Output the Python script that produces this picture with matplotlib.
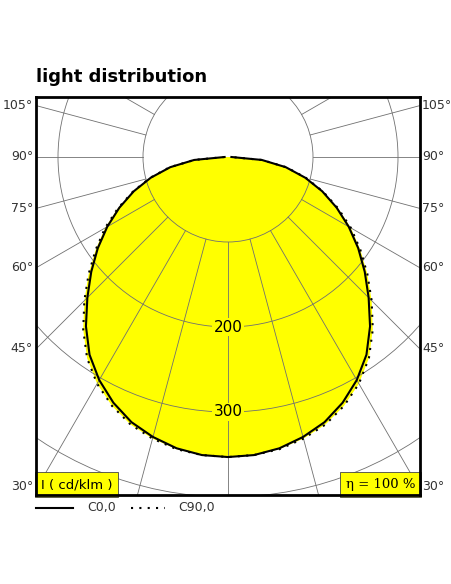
import numpy as np
import matplotlib.pyplot as plt
from matplotlib.patches import Circle, Polygon

# luminous intensity (cd/klm) vs gamma angle, symmetric halves
angles = [0, 5, 10, 15, 20, 25, 30, 35, 40, 45, 50, 55, 60, 65, 70, 75, 80, 85, 90]
c0 = [353, 352, 348, 341, 332, 319, 303, 284, 260, 234, 210, 187, 164, 141, 118, 94, 69, 40, 4]
c90 = [353, 352, 349, 343, 335, 323, 308, 289, 265, 239, 214, 190, 167, 143, 119, 95, 70, 40, 4]
grid_rings = [100, 200, 300, 400]
ring_labels = {200: "200", 300: "300"}
side_labels = [30, 45, 60, 75, 90, 105]

S = 0.85  # px per cd/klm
fig = plt.figure(figsize=(4.52, 5.84), dpi=100)
ax = fig.add_axes([36 / 452, 89 / 584, 384 / 452, 398 / 584])
ax.set_xlim(-192 / S, 192 / S)
ax.set_ylim(-338 / S, 60 / S)
ax.set_aspect('equal')
ax.set_xticks([])
ax.set_yticks([])
for sp in ax.spines.values():
    sp.set_linewidth(2)
    sp.set_zorder(6)


def curve(vals):
    g = np.radians(angles)
    v = np.array(vals)
    xr = v * np.sin(g)
    yr = -v * np.cos(g)
    x = np.concatenate([-xr[::-1], xr[1:]])
    y = np.concatenate([yr[::-1], yr[1:]])
    return x, y


x0, y0 = curve(c0)
x9, y9 = curve(c90)
ax.add_patch(Polygon(np.column_stack([x9, y9]), closed=True, fc='#ffff00', ec='none', zorder=1))
ax.add_patch(Polygon(np.column_stack([x0, y0]), closed=True, fc='#ffff00', ec='none', zorder=1))

# grid
for r in grid_rings:
    ax.add_patch(Circle((0, 0), r, fill=False, ec='#707070', lw=0.6, zorder=2))
for a in range(0, 360, 15):
    t = np.radians(a)
    ax.plot([100 * np.sin(t), 700 * np.sin(t)], [-100 * np.cos(t), -700 * np.cos(t)],
            color='#707070', lw=0.6, zorder=2)

ax.plot(x0, y0, color='black', lw=1.5, zorder=3)
ax.plot(x9, y9, color='black', lw=1.5, ls=(0, (1, 3)), zorder=3)

for r, s in ring_labels.items():
    ax.text(0, -r, s, ha='center', va='center', fontsize=11, zorder=4,
            bbox=dict(fc='#ffff00', ec='none', pad=1))

# side angle labels
for a in side_labels:
    t = np.radians(a)
    yy = 157 + 192 / np.tan(t) if a != 90 else 157
    yy = min(yy, 487)
    yf = 1 - yy / 584
    fig.text(33 / 452, yf, f"{a}°", ha='right', va='center', fontsize=9, color='#333333')
    fig.text(422 / 452, yf, f"{a}°", ha='left', va='center', fontsize=9, color='#333333')

ax.text(0.012, 0.01, "I ( cd/klm )", transform=ax.transAxes, ha='left', va='bottom', fontsize=9.5,
        bbox=dict(fc='#ffff00', ec='#444444', lw=0.6, pad=4), zorder=5)
ax.text(0.988, 0.01, "η = 100 %", transform=ax.transAxes, ha='right', va='bottom', fontsize=9.5,
        family='DejaVu Serif', bbox=dict(fc='#ffff00', ec='#444444', lw=0.6, pad=4), zorder=5)

fig.text(36 / 452, 1 - 77 / 584, "light distribution", fontsize=13, fontweight='bold', va='center')

# legend
yl = 1 - 508 / 584
fig.add_artist(plt.Line2D([36 / 452, 73 / 452], [yl, yl], color='black', lw=1.5))
fig.text(87 / 452, yl, "C0,0", fontsize=9, va='center', color='#333333')
fig.add_artist(plt.Line2D([131 / 452, 165 / 452], [yl, yl], color='black', lw=1.5, ls=(0, (1, 3))))
fig.text(178 / 452, yl, "C90,0", fontsize=9, va='center', color='#333333')

fig.savefig('out.png', dpi=100)
